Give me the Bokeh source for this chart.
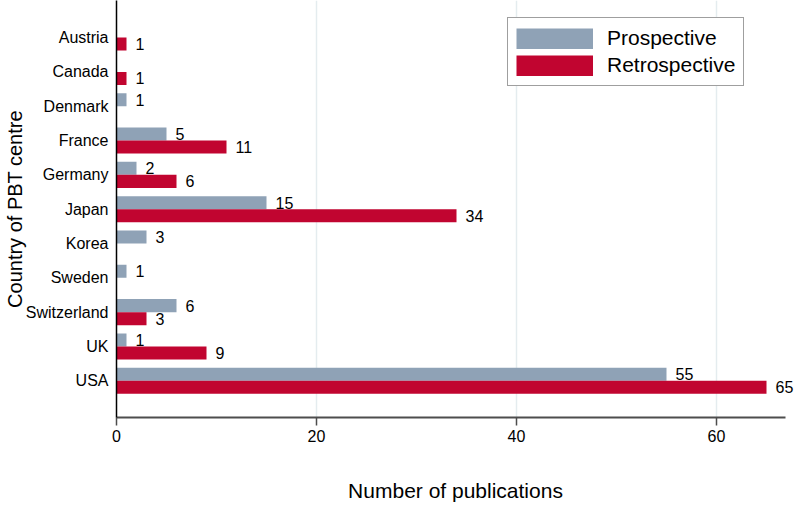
import math
from bokeh.plotting import figure
from bokeh.models import (Range1d, FixedTicker, ColumnDataSource, LabelSet,
                          Legend, LegendItem)
from bokeh.core.properties import value
from bokeh.transform import dodge
from bokeh.embed import file_html
from bokeh.resources import INLINE

# ---- data ----
countries = ["Austria", "Canada", "Denmark", "France", "Germany", "Japan",
             "Korea", "Sweden", "Switzerland", "UK", "USA"]
prospective = [None, None, 1, 5, 2, 15, 3, 1, 6, 1, 55]
retrospective = [1, 1, None, 11, 6, 34, None, None, 3, 9, 65]
x_ticks = [0, 20, 40, 60]
series_names = ["Prospective", "Retrospective"]
series_colors = ["#8FA2B6", "#C10530"]

FONT = "Liberation Sans"
NAN = float("nan")

p = figure(width=794, height=505, output_backend="svg", toolbar_location=None,
           x_range=Range1d(0, 67.8), y_range=Range1d(11.07, -1.08),
           x_axis_label="Number of publications",
           y_axis_label="Country of PBT centre",
           min_border_left=116, min_border_right=0, min_border_top=0,
           min_border_bottom=88)
p.outline_line_color = None
p.background_fill_color = "white"
p.border_fill_color = "white"

legend_items = []
for name, vals, color, off in zip(series_names, [prospective, retrospective],
                                  series_colors, [-0.19, 0.19]):
    idx = [i for i, v in enumerate(vals) if v is not None]
    src = ColumnDataSource(dict(pos=idx, val=[vals[i] for i in idx],
                                txt=[str(vals[i]) for i in idx]))
    p.hbar(y=dodge("pos", off), left=0, right="val", height=0.38,
           source=src, fill_color=color, line_color=None)
    p.add_layout(LabelSet(x="val", y=dodge("pos", off), text="txt", source=src,
                          x_offset=9, text_baseline="middle", text_align="left",
                          text_font=value(FONT), text_font_size=value("16px"),
                          text_color="black"))
    # legend swatch proxy (not drawn in the plot, legend only)
    proxy = p.line(x=[NAN], y=[NAN], line_width=21, line_color=color)
    legend_items.append(LegendItem(label=name, renderers=[proxy]))

# axes
p.xaxis.ticker = FixedTicker(ticks=x_ticks)
p.xaxis.bounds = (0, 66.9)
p.xaxis.axis_line_color = "#4d4d4d"
p.xaxis.axis_line_width = 2
p.xaxis.major_tick_line_color = "#4d4d4d"
p.xaxis.major_tick_line_width = 1.5
p.xaxis.major_tick_out = 8
p.xaxis.major_tick_in = 0
p.xaxis.minor_tick_out = 0
p.xaxis.minor_tick_in = 0
p.xaxis.major_label_standoff = 4
p.xaxis.major_label_text_font = FONT
p.xaxis.major_label_text_font_size = "16px"
p.xaxis.major_label_text_color = "black"
p.xaxis.axis_label_standoff = 34
p.xaxis.axis_label_text_font = FONT
p.xaxis.axis_label_text_font_size = "21px"
p.xaxis.axis_label_text_font_style = "normal"
p.xaxis.axis_label_text_color = "black"

p.yaxis.ticker = FixedTicker(ticks=list(range(len(countries))))
p.yaxis.major_label_overrides = {i: c for i, c in enumerate(countries)}
p.yaxis.axis_line_color = "black"
p.yaxis.axis_line_width = 1.5
p.yaxis.major_tick_out = 0
p.yaxis.major_tick_in = 0
p.yaxis.minor_tick_out = 0
p.yaxis.minor_tick_in = 0
p.yaxis.major_label_standoff = 8
p.yaxis.major_label_text_font = FONT
p.yaxis.major_label_text_font_size = "16px"
p.yaxis.major_label_text_color = "black"
p.yaxis.axis_label_standoff = -3
p.yaxis.axis_label_text_font = FONT
p.yaxis.axis_label_text_font_size = "20px"
p.yaxis.axis_label_text_font_style = "normal"
p.yaxis.axis_label_text_color = "black"

p.xgrid.ticker = FixedTicker(ticks=x_ticks)
p.xgrid.grid_line_color = "#E4ECEF"
p.xgrid.grid_line_width = 1.5
p.ygrid.grid_line_color = None

legend = Legend(items=legend_items, location=(391, 331),
                glyph_width=77, glyph_height=21, spacing=3, padding=8,
                label_standoff=14, margin=0,
                label_text_font=FONT, label_text_font_size="21px",
                label_text_color="black",
                border_line_color="#404040", border_line_width=1.5,
                background_fill_color="white", background_fill_alpha=1)
p.add_layout(legend)

open("out.html", "w").write(file_html(p, INLINE))
